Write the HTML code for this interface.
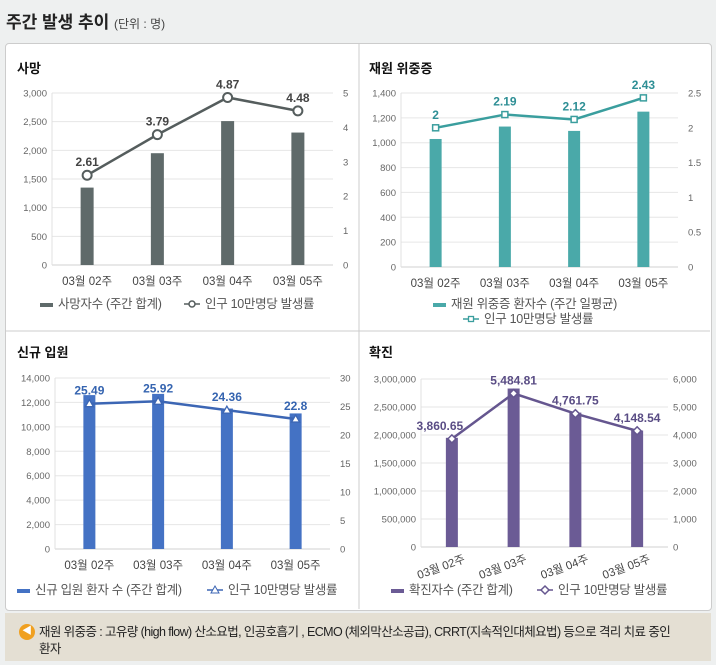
<!DOCTYPE html>
<html><head><meta charset="utf-8">
<style>
body{margin:0;width:716px;height:665px;background:#eef0f0;font-family:"Liberation Sans","Noto Sans CJK KR",sans-serif;overflow:hidden;position:relative}
#title{position:absolute;left:6px;top:8px;font-size:17px;font-weight:bold;color:#222}
#title span{font-size:12px;font-weight:normal;color:#444}
#box{position:absolute;left:5px;top:43px;width:705px;height:566px;background:#fff;border:1px solid #ccc;border-radius:4px}
#note{position:absolute;left:5px;top:613px;width:706px;height:48px;background:#e4dfd3}
#note .ic{position:absolute;left:14px;top:11px;width:16px;height:16px;border-radius:50%;background:#f0a020;color:#fff;font-size:10px;text-align:center;line-height:16px}
#note .tx{position:absolute;left:34px;top:11px;width:650px;font-size:12.5px;line-height:17px;color:#222;letter-spacing:-0.6px}
svg{position:absolute;left:0;top:0}
</style></head><body>
<div id="title">주간 발생 추이 <span>(단위 : 명)</span></div>
<div id="box"></div>
<div id="note"><div class="ic">◀</div><div class="tx">재원 위중증 : 고유량 (high flow) 산소요법, 인공호흡기 , ECMO (체외막산소공급), CRRT(지속적인대체요법) 등으로 격리 치료 중인<br>환자</div></div>
<svg id="svg" width="716" height="665" xmlns="http://www.w3.org/2000/svg"></svg>
<script>
const categories=["03월 02주","03월 03주","03월 04주","03월 05주"];
const deathBars=[1350,1950,2510,2310];
const deathRate=[2.61,3.79,4.87,4.48];
const deathLeftTicks=[0,500,1000,1500,2000,2500,3000];
const deathRightTicks=[0,1,2,3,4,5];
const icuBars=[1030,1130,1095,1250];
const icuRate=[2,2.19,2.12,2.43];
const icuLeftTicks=[0,200,400,600,800,1000,1200,1400];
const icuRightTicks=[0,0.5,1,1.5,2,2.5];
const admBars=[12600,12700,11500,11100];
const admRate=[25.49,25.92,24.36,22.8];
const admLeftTicks=[0,2000,4000,6000,8000,10000,12000,14000];
const admRightTicks=[0,5,10,15,20,25,30];
const caseBars=[1950000,2830000,2400000,2080000];
const caseRate=[3860.65,5484.81,4761.75,4148.54];
const caseLeftTicks=[0,500000,1000000,1500000,2000000,2500000,3000000];
const caseRightTicks=[0,1000,2000,3000,4000,5000,6000];

const NS="http://www.w3.org/2000/svg";
const svg=document.getElementById('svg');
function mk(tag,at,parent,txt){const e=document.createElementNS(NS,tag);for(const k in at)e.setAttribute(k,at[k]);if(txt!==undefined)e.textContent=txt;(parent||svg).appendChild(e);return e;}
const fmt=v=>v.toLocaleString('en-US');
const lineDiv1=mk('line',{x1:359,y1:44,x2:359,y2:609,stroke:'#ccc'});


const lineDiv2=mk('line',{x1:6,y1:331,x2:710,y2:331,stroke:'#ccc'});



function chart(c){
  const g=mk('g',{});
  
  
  const t=mk('text',{x:c.tx,y:c.ty,'font-size':13,'font-weight':'bold',fill:'#111'},g,c.title);
  
  
  const lmax=c.lt[c.lt.length-1],rmax=c.rt[c.rt.length-1];
  const yL=v=>c.y0-(v/lmax)*(c.y0-c.y1);
  const yR=v=>c.y0-(v/rmax)*(c.y0-c.y1);
  const xC=i=>c.x0+(i+0.5)*(c.x1-c.x0)/categories.length;
  c.lt.forEach(v=>{mk('line',{x1:c.x0,x2:c.x1,y1:yL(v),y2:yL(v),stroke:v===0?'#d0d0d0':'#e6e6e6'},g);
    const tk=mk('text',{x:c.x0-5,y:yL(v)+3.5,'font-size':9.5,fill:'#666','text-anchor':'end'},g,fmt(v));
    
    });
  mk('line',{x1:c.x0,x2:c.x0,y1:c.y1,y2:c.y0,stroke:'#e0e0e0'},g);
  c.rt.forEach(v=>{const tk=mk('text',{x:c.rx,y:yR(v)+3.5,'font-size':9.5,fill:'#666','text-anchor':'start'},g,fmt(v));
    
    });
  c.bars.forEach((v,i)=>{const b=mk('rect',{x:xC(i)-c.bw/2,y:yL(v),width:c.bw,height:c.y0-yL(v),fill:c.bc},g);
    
    });
  const pts=c.rate.map((v,i)=>xC(i)+','+yR(v)).join(' ');
  const pl=mk('polyline',{points:pts,fill:'none',stroke:c.lc,'stroke-width':2.5},g);
  
  
  c.rate.forEach((v,i)=>{const x=xC(i),y=yR(v);let m;
    if(c.mk==='circle')m=mk('circle',{cx:x,cy:y,r:4.5,fill:'#fff',stroke:c.lc,'stroke-width':2},g);
    else if(c.mk==='square')m=mk('rect',{x:x-3,y:y-3,width:6,height:6,fill:'#fff',stroke:c.lc,'stroke-width':1.5},g);
    else if(c.mk==='tri')m=mk('polygon',{points:`${x},${y-4} ${x+4},${y+3} ${x-4},${y+3}`,fill:'#fff',stroke:c.lc,'stroke-width':1.3},g);
    else m=mk('polygon',{points:`${x},${y-4} ${x+4},${y} ${x},${y+4} ${x-4},${y}`,fill:'#fff',stroke:c.lc,'stroke-width':1.5},g);
    
    
    const l=mk('text',{x:x+(c.lox?c.lox[i]:0),y:y-9,'font-size':12,'font-weight':'bold',fill:c.vc,'text-anchor':'middle'},g,c.rate===caseRate?v.toLocaleString('en-US',{minimumFractionDigits:2}):String(v));
    
    });
  categories.forEach((s,i)=>{let l;
    if(c.rot)l=mk('text',{x:xC(i)+14,y:c.y0+15,'font-size':11.5,fill:'#444','text-anchor':'end',transform:`rotate(-20 ${xC(i)+14} ${c.y0+15})`},g,s);
    else l=mk('text',{x:xC(i),y:c.y0+20,'font-size':11.5,fill:'#444','text-anchor':'middle'},g,s);
    
    });
  const lg=mk('g',{},g);
  
  
  mk('rect',{x:c.lgx,y:c.lgy-5,width:13,height:4,fill:c.bc},lg);
  mk('text',{x:c.lgx+18,y:c.lgy,'font-size':12.5,fill:'#555','letter-spacing':'-0.3'},lg,c.l1);
  const x2=c.l2x,y2=c.l2y;
  mk('line',{x1:x2,x2:x2+16,y1:y2-4,y2:y2-4,stroke:c.lc,'stroke-width':1.5},lg);
  if(c.mk==='circle')mk('circle',{cx:x2+8,cy:y2-4,r:3,fill:'#fff',stroke:c.lc,'stroke-width':1.5},lg);
  else if(c.mk==='square')mk('rect',{x:x2+5.5,y:y2-6.5,width:5,height:5,fill:'#fff',stroke:c.lc,'stroke-width':1.3},lg);
  else if(c.mk==='tri')mk('polygon',{points:`${x2+8},${y2-8} ${x2+12},${y2-1} ${x2+4},${y2-1}`,fill:'#fff',stroke:c.lc},lg);
  else mk('polygon',{points:`${x2+8},${y2-8} ${x2+12},${y2-4} ${x2+8},${y2} ${x2+4},${y2-4}`,fill:'#fff',stroke:c.lc,'stroke-width':1.5},lg);
  mk('text',{x:x2+21,y:y2,'font-size':12.5,fill:'#555','letter-spacing':'-0.3'},lg,'인구 10만명당 발생률');
}
chart({name:'death-chart',title:'사망',tx:17,ty:73,x0:52,x1:333,y0:265,y1:93,rx:343,lt:deathLeftTicks,rt:deathRightTicks,bars:deathBars,rate:deathRate,bw:13,bc:'#5f6a6a',lc:'#555d5d',vc:'#444',mk:'circle',l1:'사망자수 (주간 합계)',lgx:40,lgy:308,l2x:184,l2y:308});
chart({name:'icu-chart',title:'재원 위중증',tx:369,ty:73,x0:401,x1:678,y0:267,y1:93,rx:688,lt:icuLeftTicks,rt:icuRightTicks,bars:icuBars,rate:icuRate,bw:12,bc:'#4aa9a9',lc:'#3a9e9e',vc:'#2e8f95',mk:'square',l1:'재원 위중증 환자수 (주간 일평균)',lgx:433,lgy:308,l2x:463,l2y:323});
chart({name:'admission-chart',title:'신규 입원',tx:17,ty:357,x0:55,x1:330,y0:549,y1:378,rx:340,lt:admLeftTicks,rt:admRightTicks,bars:admBars,rate:admRate,bw:12,bc:'#4472c4',lc:'#3c66b4',vc:'#3564b0',mk:'tri',l1:'신규 입원 환자 수 (주간 합계)',lgx:17,lgy:594,l2x:207,l2y:594});
chart({name:'confirmed-chart',title:'확진',tx:369,ty:357,x0:421,x1:668,y0:547,y1:379,rx:673,lt:caseLeftTicks,rt:caseRightTicks,bars:caseBars,rate:caseRate,bw:12,bc:'#6b5b95',lc:'#65568f',vc:'#5a4d85',mk:'diamond',rot:true,l1:'확진자수 (주간 합계)',lgx:391,lgy:594,l2x:537,l2y:594,lox:[-12,0,0,0]});
</script>
</body></html>
